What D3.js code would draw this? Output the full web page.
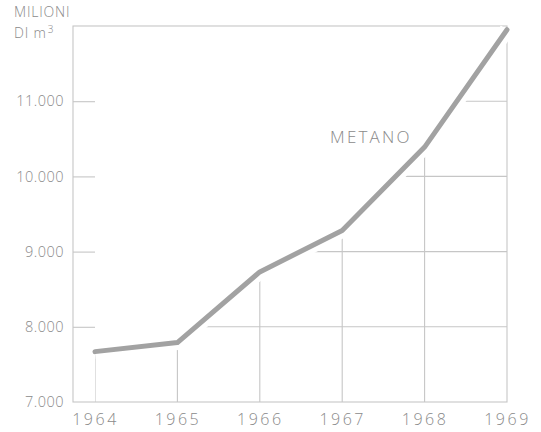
<!DOCTYPE html>
<html>
<head>
<meta charset="utf-8">
<script src="https://cdn.jsdelivr.net/npm/d3@7"></script>
<style>
  html, body { margin: 0; padding: 0; background: #fff; }
  svg { display: block; }
  text { font-family: "Open Sans", "DejaVu Sans", sans-serif; fill: #8a8a8a; }
</style>
</head>
<body>
<svg id="chart" width="541" height="432"></svg>
<script>
const years = [1964, 1965, 1966, 1967, 1968, 1969];
const values = [7670, 7790, 8730, 9280, 10390, 11950];
const yTicks = [7000, 8000, 9000, 10000, 11000];
const yTickLabels = ["7.000", "8.000", "9.000", "10.000", "11.000"];
const unitLines = ["MILIONI", "DI m", "3"];
const seriesName = "METANO";

const FONT = "'Open Sans', 'DejaVu Sans', sans-serif";
const TXT = "#8a8a8a";
const GRID = "#c6c6c6";

const svg = d3.select("#chart");
const L = 73, R = 507, T = 26, B = 402;

const x = d3.scaleLinear().domain([1963.733, 1969]).range([L, R]);
const y = d3.scaleLinear().domain([7000, 12000]).range([B, T]);

const data = years.map((yr, i) => ({ yr, v: values[i] }));

// clip: area below the curve
const area = d3.area().x(d => x(d.yr)).y0(B).y1(d => y(d.v));
svg.append("clipPath").attr("id", "under")
  .append("path").attr("d", area(data));

const grid = svg.append("g").attr("clip-path", "url(#under)")
  .attr("stroke", GRID).attr("stroke-width", 1.1).attr("fill", "none");
grid.selectAll("line.h").data(yTicks.slice(1)).join("line")
  .attr("x1", L).attr("x2", R)
  .attr("y1", d => y(d)).attr("y2", d => y(d));
grid.selectAll("line.v").data(years.slice(0, -1)).join("line")
  .attr("x1", d => x(d)).attr("x2", d => x(d))
  .attr("y1", B).attr("y2", T);

// frame
svg.append("rect").attr("x", L).attr("y", T).attr("width", R - L).attr("height", B - T)
  .attr("fill", "none").attr("stroke", GRID).attr("stroke-width", 1.1);

// left axis (labels + short ticks into the plot)
const yAxis = svg.append("g").attr("transform", `translate(${L},0)`)
  .call(d3.axisLeft(y).tickValues(yTicks)
    .tickFormat((d, i) => yTickLabels[i]).tickSize(-22).tickPadding(9));
yAxis.select(".domain").remove();
yAxis.selectAll(".tick line").attr("stroke", GRID).attr("stroke-width", 1.1)
  .filter(d => d === 7000).remove();
yAxis.selectAll(".tick text")
  .attr("font-size", 14.5).attr("font-weight", 300).attr("fill", TXT)
  .attr("letter-spacing", 0.5)
  .style("font-family", FONT);

// bottom axis (year labels)
const xAxis = svg.append("g").attr("transform", `translate(0,${B})`)
  .call(d3.axisBottom(x).tickValues(years).tickFormat(d3.format("d")).tickSize(0).tickPadding(12));
xAxis.select(".domain").remove();
xAxis.selectAll(".tick text")
  .attr("font-size", 16).attr("font-weight", 300).attr("fill", TXT)
  .attr("letter-spacing", 2.5)
  .style("font-family", FONT);

// data line: white halo then gray line
const line = d3.line().x(d => x(d.yr)).y(d => y(d.v));
svg.append("path").attr("d", line(data)).attr("fill", "none")
  .attr("stroke", "#fff").attr("stroke-width", 15).attr("stroke-linejoin", "round");
svg.append("path").attr("d", line(data)).attr("fill", "none")
  .attr("stroke", "#a2a2a2").attr("stroke-width", 5)
  .attr("stroke-linejoin", "round").attr("stroke-linecap", "round");

// unit label
svg.append("text").attr("x", 14).attr("y", 17).attr("font-size", 14)
  .attr("font-weight", 300).attr("letter-spacing", 0.8).text(unitLines[0]);
const u2 = svg.append("text").attr("x", 14).attr("y", 38).attr("font-size", 14)
  .attr("font-weight", 300).attr("letter-spacing", 0.8);
u2.append("tspan").text(unitLines[1]);
u2.append("tspan").attr("font-size", 10).attr("dy", -5).attr("dx", 1).text(unitLines[2]);

// series label
svg.append("text").attr("x", 330).attr("y", 143).attr("font-size", 17).attr("font-weight", 300)
  .attr("letter-spacing", 2.2).text(seriesName);
</script>
</body>
</html>
